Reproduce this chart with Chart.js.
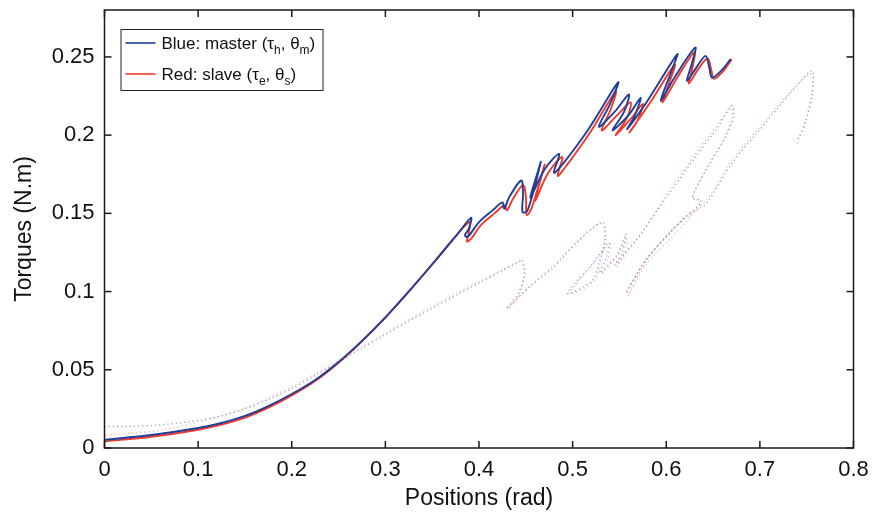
<!DOCTYPE html>
<html>
<head>
<meta charset="utf-8">
<script src="https://cdn.jsdelivr.net/npm/chart.js@4.4.1/dist/chart.umd.min.js"></script>
<style>
  html, body { margin: 0; padding: 0; background: #fff; }
  #wrap { position: relative; width: 872px; height: 514px; }
</style>
</head>
<body>
<div id="wrap"><canvas id="chart" width="872" height="514"></canvas></div>
<script>
// ---------- DATA ----------
const X_TICKS = [0, 0.1, 0.2, 0.3, 0.4, 0.5, 0.6, 0.7, 0.8];
const Y_TICKS = [0, 0.05, 0.1, 0.15, 0.2, 0.25];

// master (solid blue): positions / torques
const masterX = [0, 0.05, 0.1, 0.125, 0.15, 0.175, 0.2, 0.225, 0.25, 0.275, 0.3, 0.325, 0.35, 0.375, 0.3915, 0.389, 0.385, 0.388, 0.4, 0.4145, 0.425, 0.427, 0.432, 0.445, 0.447, 0.4465, 0.452, 0.466, 0.462, 0.455, 0.47, 0.4856, 0.48, 0.49, 0.516, 0.5485, 0.54, 0.528, 0.545, 0.56, 0.555, 0.5425, 0.56, 0.5727, 0.566, 0.5584, 0.58, 0.6117, 0.605, 0.594, 0.61, 0.631, 0.627, 0.622, 0.632, 0.642, 0.646, 0.649, 0.66, 0.6687];
const masterY = [0.0052, 0.0083, 0.0128, 0.016, 0.0205, 0.0268, 0.0345, 0.0435, 0.055, 0.0685, 0.0835, 0.1, 0.1173, 0.1352, 0.1472, 0.14, 0.136, 0.135, 0.1444, 0.1519, 0.157, 0.153, 0.16, 0.171, 0.163, 0.1508, 0.152, 0.1827, 0.175, 0.16, 0.178, 0.188, 0.176, 0.182, 0.203, 0.2337, 0.22, 0.2054, 0.215, 0.226, 0.215, 0.2029, 0.213, 0.224, 0.212, 0.204, 0.222, 0.2517, 0.24, 0.222, 0.238, 0.256, 0.245, 0.2347, 0.243, 0.2507, 0.243, 0.2368, 0.242, 0.2486];

// slave (solid red)
const slaveX = [0, 0.05, 0.1, 0.125, 0.15, 0.175, 0.2, 0.225, 0.25, 0.275, 0.3, 0.325, 0.35, 0.375, 0.39, 0.389, 0.387, 0.392, 0.402, 0.4165, 0.427, 0.43, 0.436, 0.447, 0.45, 0.451, 0.456, 0.47, 0.466, 0.46, 0.474, 0.489, 0.484, 0.494, 0.519, 0.546, 0.541, 0.531, 0.548, 0.562, 0.558, 0.546, 0.563, 0.575, 0.569, 0.561, 0.583, 0.609, 0.603, 0.596, 0.613, 0.63, 0.628, 0.624, 0.634, 0.644, 0.648, 0.651, 0.661, 0.67];
const slaveY = [0.0042, 0.0072, 0.0117, 0.0149, 0.0194, 0.0258, 0.0336, 0.0428, 0.0545, 0.0682, 0.0834, 0.1001, 0.1175, 0.1354, 0.1445, 0.137, 0.132, 0.134, 0.1425, 0.15, 0.155, 0.152, 0.159, 0.168, 0.161, 0.149, 0.153, 0.181, 0.172, 0.158, 0.176, 0.186, 0.174, 0.181, 0.202, 0.228, 0.217, 0.203, 0.213, 0.221, 0.211, 0.2, 0.211, 0.22, 0.209, 0.202, 0.221, 0.245, 0.233, 0.221, 0.238, 0.253, 0.243, 0.233, 0.242, 0.249, 0.242, 0.236, 0.241, 0.2486];

// master, second run (dotted blue)
const master2X = [0, 0.03, 0.06, 0.1, 0.125, 0.15, 0.175, 0.2, 0.225, 0.25, 0.275, 0.3, 0.325, 0.35, 0.375, 0.4, 0.425, 0.44, 0.4465, 0.449, 0.441, 0.429, 0.454, 0.4785, 0.5034, 0.5318, 0.5354, 0.528, 0.521, 0.4945, 0.52, 0.539, 0.536, 0.529, 0.548, 0.5567, 0.553, 0.545, 0.565, 0.573, 0.6, 0.63, 0.655, 0.6704, 0.672, 0.663, 0.642, 0.628, 0.638, 0.621, 0.603, 0.578, 0.557, 0.578, 0.603, 0.621, 0.642, 0.67, 0.699, 0.73, 0.7557, 0.7557, 0.7486, 0.7415, 0.737];
const master2Y = [0.0138, 0.0138, 0.0148, 0.0176, 0.0205, 0.025, 0.031, 0.038, 0.0465, 0.055, 0.0638, 0.0725, 0.081, 0.0893, 0.0975, 0.1055, 0.1135, 0.118, 0.12, 0.111, 0.098, 0.0892, 0.103, 0.1147, 0.1307, 0.1444, 0.1349, 0.118, 0.107, 0.0988, 0.117, 0.1313, 0.122, 0.112, 0.124, 0.137, 0.125, 0.117, 0.131, 0.137, 0.16, 0.185, 0.205, 0.2188, 0.212, 0.1986, 0.177, 0.16, 0.158, 0.148, 0.137, 0.12, 0.099, 0.12, 0.137, 0.148, 0.156, 0.182, 0.203, 0.225, 0.2411, 0.2263, 0.2092, 0.1986, 0.1965];

// slave, second run (dotted red)
const slave2X = [0, 0.03, 0.06, 0.1, 0.125, 0.15, 0.175, 0.2, 0.225, 0.25, 0.275, 0.3, 0.325, 0.35, 0.375, 0.4, 0.425, 0.44, 0.445, 0.448, 0.442, 0.431, 0.456, 0.48, 0.505, 0.53, 0.534, 0.529, 0.523, 0.497, 0.522, 0.54, 0.538, 0.531, 0.55, 0.558, 0.555, 0.547, 0.567, 0.575, 0.6, 0.63, 0.655, 0.669, 0.67, 0.661, 0.64, 0.629, 0.637, 0.62, 0.603, 0.578, 0.559, 0.58, 0.605, 0.642, 0.67, 0.7, 0.73, 0.754, 0.756, 0.749, 0.742, 0.739];
const slave2Y = [0.0085, 0.0095, 0.0115, 0.0165, 0.0205, 0.0255, 0.032, 0.039, 0.0475, 0.056, 0.0648, 0.0735, 0.082, 0.0903, 0.0985, 0.1063, 0.114, 0.1185, 0.1195, 0.11, 0.097, 0.089, 0.1045, 0.117, 0.132, 0.1435, 0.134, 0.117, 0.1065, 0.0985, 0.118, 0.13, 0.121, 0.111, 0.125, 0.135, 0.124, 0.116, 0.132, 0.138, 0.162, 0.187, 0.207, 0.2185, 0.211, 0.197, 0.176, 0.16, 0.157, 0.144, 0.133, 0.117, 0.097, 0.121, 0.139, 0.158, 0.184, 0.205, 0.226, 0.239, 0.226, 0.208, 0.197, 0.194];

// ---------- HELPERS ----------
const pts = (xs, ys) => xs.map((x, i) => ({ x, y: ys[i] }));
const FONT = "'Liberation Sans', Arial, Helvetica, sans-serif";
const BLUE = "#1f3d99";
const RED = "#f0392b";

function seg(ctx, x1, y1, x2, y2) {
  ctx.beginPath();
  ctx.moveTo(x1, y1);
  ctx.lineTo(x2, y2);
  ctx.stroke();
}

// draw "text" made of [string, isSub] pieces
function richText(ctx, x, y, parts) {
  parts.forEach(([s, sub]) => {
    ctx.font = sub ? `12px ${FONT}` : `17px ${FONT}`;
    ctx.fillText(s, x, sub ? y + 5 : y);
    x += ctx.measureText(s).width;
  });
}

// box, inward ticks on all 4 sides, legend
const framePlugin = {
  id: "frame",
  afterDraw(chart) {
    const { ctx, chartArea: a, scales: { x, y } } = chart;
    ctx.save();
    ctx.strokeStyle = "#1a1a1a";
    ctx.lineWidth = 1.5;
    ctx.strokeRect(a.left, a.top, a.right - a.left, a.bottom - a.top);
    X_TICKS.forEach(v => {
      const px = x.getPixelForValue(v);
      seg(ctx, px, a.bottom, px, a.bottom - 7);
      seg(ctx, px, a.top, px, a.top + 7);
    });
    Y_TICKS.forEach(v => {
      const py = y.getPixelForValue(v);
      seg(ctx, a.left, py, a.left + 7, py);
      seg(ctx, a.right, py, a.right - 7, py);
    });

    // legend
    const lx = a.left + 16, ly = a.top + 19;
    ctx.fillStyle = "#fff";
    ctx.fillRect(lx, ly, 202, 61);
    ctx.lineWidth = 1;
    ctx.strokeStyle = "#222";
    ctx.strokeRect(lx + 0.5, ly + 0.5, 202, 61);
    ctx.lineWidth = 1.6;
    ctx.strokeStyle = BLUE;
    seg(ctx, lx + 5, ly + 14, lx + 35, ly + 14);
    ctx.strokeStyle = RED;
    seg(ctx, lx + 5, ly + 45, lx + 35, ly + 45);
    ctx.fillStyle = "#111";
    ctx.textBaseline = "alphabetic";
    richText(ctx, lx + 41, ly + 20, [["Blue: master (\u03c4", 0], ["h", 1], [", \u03b8", 0], ["m", 1], [")", 0]]);
    richText(ctx, lx + 41, ly + 51, [["Red: slave (\u03c4", 0], ["e", 1], [", \u03b8", 0], ["s", 1], [")", 0]]);
    ctx.restore();
  }
};

// ---------- CHART ----------
new Chart(document.getElementById("chart"), {
  type: "scatter",
  data: {
    datasets: [
      { label: "master2", data: pts(master2X, master2Y), borderColor: "rgba(70,95,190,0.6)", borderWidth: 1.3, borderDash: [1.2, 3], tension: 0.3 },
      { label: "slave2", data: pts(slave2X, slave2Y), borderColor: "rgba(240,100,90,0.48)", borderWidth: 1.3, borderDash: [1.2, 3], borderDashOffset: 2.1, tension: 0.3 },
      { label: "master", data: pts(masterX, masterY), borderColor: BLUE, borderWidth: 1.9, tension: 0.35 },
      { label: "slave", data: pts(slaveX, slaveY), borderColor: RED, borderWidth: 1.9, tension: 0.35 }
    ].map(d => ({ ...d, showLine: true, pointRadius: 0, pointHoverRadius: 0, fill: false }))
  },
  options: {
    responsive: false,
    animation: false,
    events: [],
    layout: { padding: { top: 10, right: 18.5, left: 0, bottom: 0 } },
    plugins: { legend: { display: false }, tooltip: { enabled: false } },
    scales: {
      x: {
        type: "linear", min: 0, max: 0.8,
        grid: { display: false, drawTicks: false },
        border: { display: false },
        afterBuildTicks: s => { s.ticks = X_TICKS.map(value => ({ value })); },
        afterFit: s => { s.height = 66; s.paddingLeft = 0; s.paddingRight = 0; },
        ticks: { padding: 9, color: "#111", font: { family: FONT, size: 22 }, callback: v => String(+v.toFixed(2)), maxRotation: 0 },
        title: { display: true, text: "Positions (rad)", color: "#111", font: { family: FONT, size: 23 }, padding: { top: 0, bottom: 2 } }
      },
      y: {
        type: "linear", min: 0, max: 0.28,
        grid: { display: false, drawTicks: false },
        border: { display: false },
        afterBuildTicks: s => { s.ticks = Y_TICKS.map(value => ({ value })); },
        afterFit: s => { s.width = 104.5; s.paddingTop = 0; s.paddingBottom = 0; },
        ticks: { padding: 10, color: "#111", font: { family: FONT, size: 22 }, callback: v => String(+v.toFixed(2)) },
        title: { display: true, text: "Torques (N.m)", color: "#111", font: { family: FONT, size: 23 }, padding: { top: 11, bottom: 0 } }
      }
    }
  },
  plugins: [framePlugin]
});
</script>
</body>
</html>
